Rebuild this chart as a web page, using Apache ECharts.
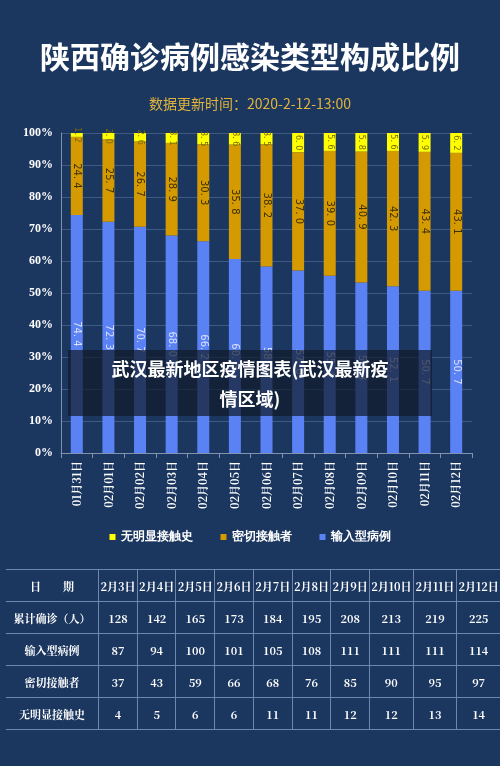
<!DOCTYPE html>
<html>
<head>
<meta charset="utf-8">
<script src="https://cdn.jsdelivr.net/npm/echarts@6/dist/echarts.min.js"></script>
<style>
body{margin:0;background:#1b3760;font-family:"Noto Sans CJK SC",sans-serif;}
#chart{position:absolute;left:0;top:0;width:500px;height:766px;}
#tbl{position:absolute;left:6px;top:569px;border-collapse:collapse;color:#fff;font-family:"Noto Serif CJK SC","Noto Sans CJK SC",serif;font-weight:bold;font-size:11px;}
#tbl td{border-top:1px solid #6f86ad;border-bottom:1px solid #6f86ad;border-left:1px solid #6f86ad;height:31px;text-align:center;padding:0;width:38px;}
#tbl td:first-child{border-left:none;width:93px;}
#tbl td.w{width:43px;}
#overlay{position:absolute;left:68px;top:350px;width:364px;height:66px;background:rgba(15,25,40,0.7);color:#fff;font-weight:bold;font-size:18px;text-align:center;line-height:30px;padding-top:3px;box-sizing:border-box;}
</style>
</head>
<body>
<div id="chart"></div>
<table id="tbl"></table>
<div id="overlay">武汉最新地区疫情图表(武汉最新疫<br>情区域)</div>
<script>
var dates = ['01月31日','02月01日','02月02日','02月03日','02月04日','02月05日','02月06日','02月07日','02月08日','02月09日','02月10日','02月11日','02月12日'];
var importRate = [74.4,72.3,70.7,68.0,66.2,60.6,58.3,57.0,55.4,53.3,52.1,50.7,50.7];
var contactRate = [24.4,25.7,26.7,28.9,30.3,35.8,38.2,37.0,39.0,40.9,42.3,43.4,43.1];
var unknownRate = [1.2,2.0,2.6,3.1,3.5,3.6,3.5,6.0,5.6,5.8,5.6,5.9,6.2];

var tableDays = ['2月3日','2月4日','2月5日','2月6日','2月7日','2月8日','2月9日','2月10日','2月11日','2月12日'];
var totalCases = [128,142,165,173,184,195,208,213,219,225];
var importCases = [87,94,100,101,105,108,111,111,111,114];
var contactCases = [37,43,59,66,68,76,85,90,95,97];
var unknownCases = [4,5,6,6,11,11,12,12,13,14];

var rows = [['日　　期'].concat(tableDays), ['累计确诊（人）'].concat(totalCases),
	['输入型病例'].concat(importCases), ['密切接触者'].concat(contactCases), ['无明显接触史'].concat(unknownCases)];
var html = '';
rows.forEach(function(r){
	html += '<tr>';
	r.forEach(function(c, i){
		html += '<td' + (i >= 8 ? ' class="w"' : '') + '>' + c + '</td>';
	});
	html += '</tr>';
});
document.getElementById('tbl').innerHTML = html;

function lbl(color, size){
	return {show:true, position:'inside', rotate:-90, color:color, fontSize:size, fontFamily:'DejaVu Sans',
		formatter:function(p){return p.value.toFixed(1).replace('.', '. ');}};
}

var chart = echarts.init(document.getElementById('chart'));
chart.setOption({
	backgroundColor:'#1b3760',
	animation:false,
	title:[
		{text:'陕西确诊病例感染类型构成比例', left:'center', top:37, textStyle:{color:'#fff', fontSize:30, fontWeight:'bold', fontFamily:'Noto Sans CJK SC'}},
		{text:'数据更新时间：2020-2-12-13:00', left:'center', top:92, textStyle:{color:'#e0b43c', fontSize:14, fontWeight:'normal', fontFamily:'Noto Sans CJK SC'}}
	],
	legend:{
		top:526, left:'center', itemWidth:6, itemHeight:6, itemGap:28, icon:'rect',
		textStyle:{color:'#fff', fontSize:12, fontWeight:'bold'},
		data:['无明显接触史','密切接触者','输入型病例']
	},
	grid:{left:61, right:28, top:133, bottom:313},
	xAxis:{type:'category', data:dates,
		axisLine:{lineStyle:{color:'#8092b0'}}, axisTick:{show:true, lineStyle:{color:'#8092b0'}},
		axisLabel:{rotate:90, color:'#fff', fontSize:11, fontWeight:'bold', fontFamily:'Noto Serif CJK SC, serif', interval:0}},
	yAxis:{type:'value', min:0, max:100, interval:10,
		axisLabel:{formatter:'{value}%', color:'#fff', fontSize:12, fontWeight:'bold', fontFamily:'Liberation Serif'},
		axisLine:{show:true, lineStyle:{color:'#8092b0'}},
		splitLine:{lineStyle:{color:'#3f5a82'}}},
	series:[
		{name:'输入型病例', type:'bar', stack:'a', barWidth:12, data:importRate, itemStyle:{color:'#5b82f5'}, label:lbl('#d8e0ff', 10)},
		{name:'密切接触者', type:'bar', stack:'a', data:contactRate, itemStyle:{color:'#d49a00'}, label:lbl('#3d3000', 10)},
		{name:'无明显接触史', type:'bar', stack:'a', data:unknownRate, itemStyle:{color:'#ffff00'}, label:lbl('#7a6a00', 8)}
	]
});
</script>
</body>
</html>
